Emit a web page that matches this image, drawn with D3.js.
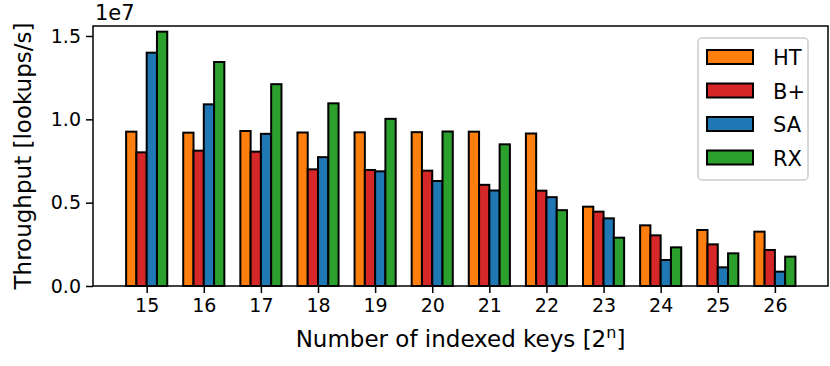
<!DOCTYPE html>
<html>
<head>
<meta charset="utf-8">
<script src="https://cdn.jsdelivr.net/npm/d3@7"></script>
<style>
  body { margin: 0; background: #fff; }
  text { font-family: "DejaVu Sans", sans-serif; fill: #000; }
</style>
</head>
<body>
<svg id="chart" width="830" height="366"></svg>
<script>
// data, throughput in units of 1e7 lookups/s
var keys = [15, 16, 17, 18, 19, 20, 21, 22, 23, 24, 25, 26];
var series = ["HT", "B+", "SA", "RX"];
var colors = ["#ff7f0e", "#d62728", "#1f77b4", "#2ca02c"];
var ht = [0.926, 0.920, 0.930, 0.921, 0.922, 0.923, 0.926, 0.915, 0.476, 0.364, 0.336, 0.326];
var bplus = [0.802, 0.812, 0.806, 0.700, 0.696, 0.692, 0.607, 0.572, 0.446, 0.304, 0.250, 0.216];
var sa = [1.400, 1.090, 0.913, 0.773, 0.688, 0.630, 0.573, 0.533, 0.406, 0.156, 0.112, 0.086];
var rx = [1.526, 1.344, 1.211, 1.096, 1.003, 0.927, 0.850, 0.455, 0.290, 0.232, 0.196, 0.176];
var yTicks = [0.0, 0.5, 1.0, 1.5];

var values = [ht, bplus, sa, rx];
var barW = 0.18;

var svg = d3.select("#chart");
var mLeft = 93, mRight = 828, mTop = 26, mBottom = 286;

var x = d3.scaleLinear().domain([14.06, 26.93]).range([mLeft, mRight]);
var y = d3.scaleLinear().domain([0, 1.56]).range([mBottom, mTop]);

// bars
var rows = [];
keys.forEach(function(k, i) {
  series.forEach(function(s, j) {
    rows.push({ k: k, j: j, v: values[j][i] });
  });
});
svg.append("g").selectAll("rect").data(rows).enter().append("rect")
  .attr("x", d => x(d.k + (d.j - 2) * barW))
  .attr("y", d => y(d.v))
  .attr("width", d => x(d.k + (d.j - 1) * barW) - x(d.k + (d.j - 2) * barW))
  .attr("height", d => y(0) - y(d.v))
  .attr("fill", d => colors[d.j])
  .attr("stroke", "#000")
  .attr("stroke-width", 2);

// axes
var xAxis = svg.append("g").attr("transform", "translate(0," + mBottom + ")")
  .call(d3.axisBottom(x).tickValues(keys).tickSize(7).tickPadding(5).tickFormat(d3.format("d")));
var yAxis = svg.append("g").attr("transform", "translate(" + mLeft + ",0)")
  .call(d3.axisLeft(y).tickValues(yTicks).tickSize(7).tickPadding(5).tickFormat(d3.format(".1f")));
[xAxis, yAxis].forEach(function(a) {
  a.select(".domain").remove();
  a.attr("font-family", null).attr("font-size", null);
  a.selectAll(".tick line").attr("stroke", "#000").attr("stroke-width", 1.5);
  a.selectAll(".tick text").style("font-size", "19px").attr("fill", "#000");
});
xAxis.selectAll(".tick text").attr("dy", "0.75em");

// frame
svg.append("rect").attr("x", mLeft).attr("y", mTop)
  .attr("width", mRight - mLeft).attr("height", mBottom - mTop)
  .attr("fill", "none").attr("stroke", "#000").attr("stroke-width", 1.5);

// offset text
svg.append("text").attr("x", mLeft + 2).attr("y", 20).style("font-size", "21px").text("1e7");

// axis labels
var xl = svg.append("text").attr("x", (mLeft + mRight) / 2).attr("y", 347)
  .attr("text-anchor", "middle").style("font-size", "23px");
xl.append("tspan").text("Number of indexed keys [2");
xl.append("tspan").attr("dy", -9).style("font-size", "16px").text("n");
xl.append("tspan").attr("dy", 9).text("]");

svg.append("text").attr("transform", "translate(31," + ((mTop + mBottom) / 2) + ") rotate(-90)")
  .attr("text-anchor", "middle").style("font-size", "23px").text("Throughput [lookups/s]");

// legend
var lg = svg.append("g").attr("transform", "translate(698,38)");
lg.append("rect").attr("width", 110).attr("height", 142).attr("rx", 4)
  .attr("fill", "#fff").attr("fill-opacity", 0.8).attr("stroke", "#ccc").attr("stroke-width", 1.5);
series.forEach(function(s, j) {
  var g = lg.append("g").attr("transform", "translate(9," + (12 + j * 33.5) + ")");
  g.append("rect").attr("width", 46).attr("height", 14)
    .attr("fill", colors[j]).attr("stroke", "#000").attr("stroke-width", 2);
  g.append("text").attr("x", 66).attr("y", 15).style("font-size", "21px").text(s);
});
</script>
</body>
</html>
